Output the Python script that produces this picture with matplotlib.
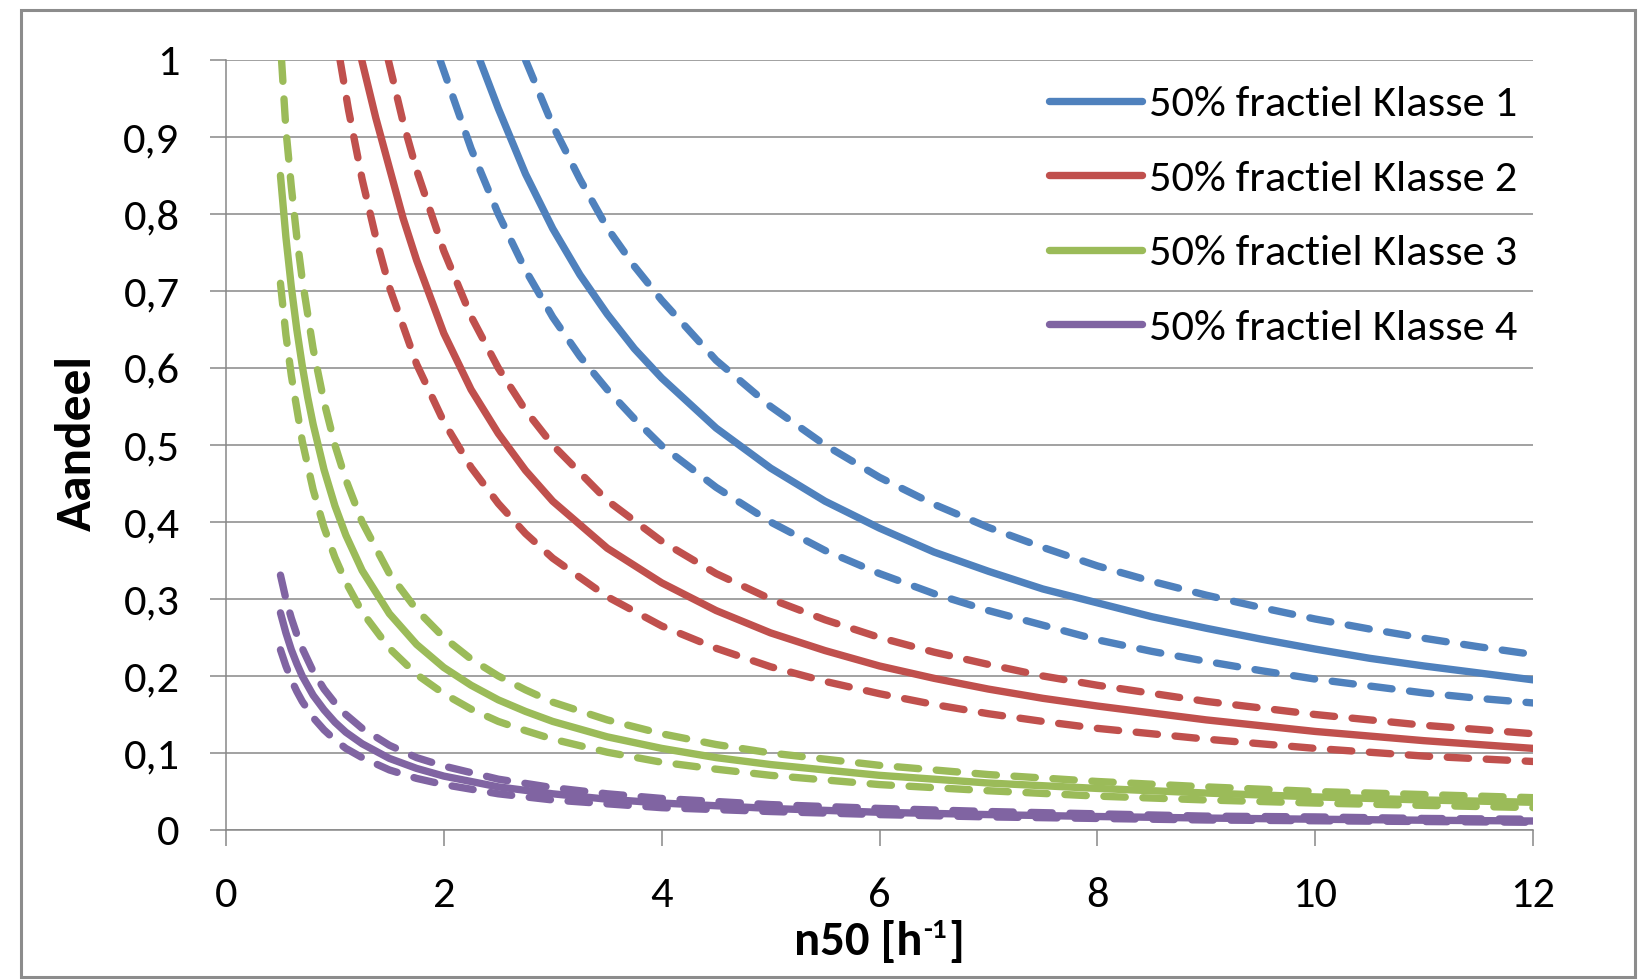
import matplotlib
matplotlib.use("Agg")
import matplotlib.pyplot as plt
from matplotlib.patches import Rectangle
from matplotlib.ticker import FixedLocator

# ---------------- data ----------------
k1_mid_x = [2.33, 2.5, 2.75, 3, 3.25, 3.5, 3.75, 4, 4.5, 5, 5.5, 6, 6.5, 7, 7.5, 8, 8.5, 9, 9.5, 10, 10.5, 11, 11.5, 12]
k1_mid_y = [1.0, 0.937, 0.852, 0.781, 0.721, 0.67, 0.625, 0.587, 0.522, 0.47, 0.427, 0.392, 0.361, 0.336, 0.313,
            0.295, 0.277, 0.262, 0.248, 0.235, 0.223, 0.213, 0.204, 0.195]
k1_hi_x = [2.75, 3, 3.25, 3.5, 3.75, 4, 4.5, 5, 5.5, 6, 6.5, 7, 7.5, 8, 8.5, 9, 9.5, 10, 10.5, 11, 11.5, 12]
k1_hi_y = [1.0, 0.915, 0.845, 0.782, 0.732, 0.688, 0.61, 0.55, 0.5, 0.458, 0.423, 0.393, 0.367, 0.343, 0.323,
           0.305, 0.289, 0.274, 0.261, 0.249, 0.238, 0.228]
k1_lo_x = [1.965, 2.25, 2.5, 2.75, 3, 3.25, 3.5, 3.75, 4, 4.5, 5, 5.5, 6, 6.5, 7, 7.5, 8, 8.5, 9, 9.5, 10, 10.5, 11, 11.5, 12]
k1_lo_y = [1.0, 0.885, 0.80, 0.727, 0.666, 0.615, 0.572, 0.534, 0.499, 0.445, 0.4, 0.363, 0.333, 0.307, 0.285,
           0.266, 0.247, 0.232, 0.219, 0.207, 0.196, 0.187, 0.178, 0.171, 0.165]

k2_mid_x = [1.246, 1.375, 1.5, 1.625, 1.75, 2, 2.25, 2.5, 2.75, 3, 3.5, 4, 4.5, 5, 5.5, 6, 6.5, 7, 7.5, 8, 9, 10, 11, 12]
k2_mid_y = [1.0, 0.925, 0.86, 0.795, 0.74, 0.645, 0.572, 0.515, 0.467, 0.427, 0.366, 0.321, 0.285, 0.256, 0.233,
            0.213, 0.197, 0.183, 0.171, 0.161, 0.143, 0.128, 0.116, 0.106]
k2_hi_x = [1.49, 1.625, 1.75, 2, 2.25, 2.5, 2.75, 3, 3.5, 4, 4.5, 5, 5.5, 6, 6.5, 7, 7.5, 8, 9, 10, 11, 12]
k2_hi_y = [1.0, 0.92, 0.857, 0.752, 0.667, 0.6, 0.545, 0.5, 0.428, 0.375, 0.333, 0.3, 0.273, 0.25, 0.231, 0.215,
           0.2, 0.188, 0.167, 0.15, 0.136, 0.125]
k2_lo_x = [1.047, 1.125, 1.25, 1.375, 1.5, 1.75, 2, 2.25, 2.5, 2.75, 3, 3.5, 4, 4.5, 5, 5.5, 6, 6.5, 7, 7.5, 8, 9, 10, 11, 12]
k2_lo_y = [1.0, 0.935, 0.845, 0.77, 0.705, 0.605, 0.53, 0.471, 0.424, 0.385, 0.353, 0.303, 0.265, 0.236, 0.212,
           0.193, 0.177, 0.163, 0.151, 0.141, 0.132, 0.118, 0.106, 0.096, 0.089]

k3_mid_x = [0.5, 0.55, 0.6, 0.65, 0.7, 0.75, 0.8, 0.9, 1.0, 1.1, 1.25, 1.5, 1.75, 2, 2.25, 2.5, 2.75, 3, 3.5, 4,
            4.5, 5, 6, 7, 8, 9, 10, 11, 12]
k3_mid_y = [0.85, 0.77, 0.705, 0.65, 0.603, 0.562, 0.527, 0.468, 0.421, 0.383, 0.337, 0.281, 0.241, 0.211, 0.188,
            0.169, 0.154, 0.141, 0.121, 0.106, 0.094, 0.085, 0.071, 0.061, 0.054, 0.048, 0.043, 0.039, 0.036]
k3_hi_x = [0.51, 0.55, 0.6, 0.65, 0.7, 0.8, 0.9, 1.0, 1.1, 1.25, 1.5, 1.75, 2, 2.25, 2.5, 2.75, 3, 3.5, 4, 4.5,
           5, 6, 7, 8, 9, 10, 11, 12]
k3_hi_y = [1.0, 0.91, 0.835, 0.77, 0.715, 0.625, 0.556, 0.5, 0.455, 0.4, 0.333, 0.286, 0.25, 0.222, 0.2, 0.182,
           0.166, 0.143, 0.125, 0.111, 0.1, 0.084, 0.072, 0.063, 0.056, 0.05, 0.046, 0.042]
k3_lo_x = [0.5, 0.55, 0.6, 0.7, 0.8, 0.9, 1.0, 1.1, 1.25, 1.5, 1.75, 2, 2.25, 2.5, 2.75, 3, 3.5, 4, 4.5, 5, 6,
           7, 8, 9, 10, 11, 12]
k3_lo_y = [0.71, 0.643, 0.59, 0.505, 0.442, 0.393, 0.354, 0.322, 0.283, 0.236, 0.202, 0.177, 0.157, 0.141, 0.129,
           0.118, 0.101, 0.088, 0.079, 0.071, 0.059, 0.051, 0.044, 0.039, 0.035, 0.032, 0.029]

k4_x = [0.5, 0.55, 0.6, 0.65, 0.7, 0.8, 0.9, 1.0, 1.1, 1.25, 1.5, 1.75, 2, 2.5, 3, 3.5, 4, 5, 6, 7, 8, 9, 10, 11, 12]
k4_mid_y = [0.282, 0.256, 0.234, 0.216, 0.2, 0.175, 0.156, 0.14, 0.127, 0.112, 0.093, 0.08, 0.07, 0.056, 0.047,
            0.04, 0.035, 0.028, 0.023, 0.02, 0.0175, 0.0155, 0.014, 0.0127, 0.0117]
k4_hi_y = [0.331, 0.3, 0.275, 0.254, 0.236, 0.206, 0.183, 0.165, 0.15, 0.132, 0.11, 0.094, 0.083, 0.066, 0.055,
           0.047, 0.041, 0.033, 0.028, 0.024, 0.021, 0.018, 0.017, 0.015, 0.014]
k4_lo_y = [0.234, 0.213, 0.195, 0.18, 0.167, 0.146, 0.13, 0.117, 0.106, 0.094, 0.078, 0.067, 0.059, 0.047, 0.039,
           0.034, 0.029, 0.024, 0.02, 0.017, 0.015, 0.013, 0.012, 0.011, 0.01]

labels = ["50% fractiel Klasse 1", "50% fractiel Klasse 2",
          "50% fractiel Klasse 3", "50% fractiel Klasse 4"]
colors = ["#4F81BD", "#C0504D", "#9BBB59", "#8064A2"]

y_ticks = [0, 0.1, 0.2, 0.3, 0.4, 0.5, 0.6, 0.7, 0.8, 0.9, 1.0]
y_tick_labels = ["0", "0,1", "0,2", "0,3", "0,4", "0,5", "0,6", "0,7", "0,8", "0,9", "1"]
x_ticks = [0, 2, 4, 6, 8, 10, 12]
x_tick_labels = ["0", "2", "4", "6", "8", "10", "12"]
y_title = "Aandeel"
x_title_parts = ["n50 [h", "-1", "]"]

# ---------------- style ----------------
plt.rcParams["font.family"] = ["Carlito", "Lato", "DejaVu Sans"]

W, H = 1651, 980
fig = plt.figure(figsize=(W / 100, H / 100), dpi=100)
fig.patch.set_facecolor("white")

# outer chart frame
fig.patches.append(Rectangle((21 / W, 1 - 977 / H), (1635 - 21) / W, (977 - 10) / H,
                             transform=fig.transFigure, fill=False,
                             edgecolor="#8c8c8c", linewidth=2.2, zorder=0))

ax = fig.add_axes([226 / W, 1 - 830 / H, (1533 - 226) / W, (830 - 60) / H])
ax.set_xlim(0, 12)
ax.set_ylim(0, 1)

grey = "#888888"
for s in ["top", "right"]:
    ax.spines[s].set_visible(False)
for s in ["left", "bottom"]:
    ax.spines[s].set_color(grey)
    ax.spines[s].set_linewidth(1.1)

ax.yaxis.set_major_locator(FixedLocator(y_ticks))
ax.set_yticklabels(y_tick_labels)
ax.xaxis.set_major_locator(FixedLocator(x_ticks))
ax.set_xticklabels(x_tick_labels)
ax.tick_params(axis="both", direction="out", length=11.5, width=1.1, color=grey,
               labelsize=32, labelcolor="black")
ax.tick_params(axis="y", pad=22)
ax.tick_params(axis="x", pad=22)
ax.grid(axis="y", color=grey, linewidth=1.1)
ax.set_axisbelow(True)

lw = 5.3
dash = (0, (2.9, 2.4))

groups = [
    (k1_mid_x, k1_mid_y, k1_hi_x, k1_hi_y, k1_lo_x, k1_lo_y),
    (k2_mid_x, k2_mid_y, k2_hi_x, k2_hi_y, k2_lo_x, k2_lo_y),
    (k3_mid_x, k3_mid_y, k3_hi_x, k3_hi_y, k3_lo_x, k3_lo_y),
    (k4_x, k4_mid_y, k4_x, k4_hi_y, k4_x, k4_lo_y),
]

handles = []
for (mx, my, hx, hy, lx, ly), c, lab in zip(groups, colors, labels):
    h, = ax.plot(mx, my, color=c, lw=lw, solid_capstyle="round",
                 solid_joinstyle="round", label=lab, zorder=3)
    ax.plot(hx, hy, color=c, lw=lw, linestyle=dash, dash_capstyle="round",
            dash_joinstyle="round", zorder=3)
    ax.plot(lx, ly, color=c, lw=lw, linestyle=dash, dash_capstyle="round",
            dash_joinstyle="round", zorder=3)
    handles.append(h)

leg = ax.legend(handles=handles, labels=labels, loc="upper left",
                bbox_to_anchor=(1049 / W, 1 - 85 / H), bbox_transform=fig.transFigure,
                frameon=False, fontsize=32, handlelength=2.1, handletextpad=0.15,
                labelspacing=0.82, borderpad=0, borderaxespad=0)

# y axis title
fig.text(77 / W, 1 - 443 / H, y_title, fontsize=37, fontweight="bold",
         rotation=90, ha="center", va="center")

# x axis title with superscript built from pieces
fig.canvas.draw()
renderer = fig.canvas.get_renderer()
main_fs, sup_fs = 35, 21
tmp = [fig.text(0, 0, x_title_parts[0], fontsize=main_fs, fontweight="bold"),
       fig.text(0, 0, x_title_parts[1], fontsize=sup_fs, fontweight="bold"),
       fig.text(0, 0, x_title_parts[2], fontsize=main_fs, fontweight="bold")]
widths = [t.get_window_extent(renderer).width for t in tmp]
for t in tmp:
    t.remove()
total = sum(widths) + 2
x_px = 879 - total / 2
base_px = 955
fig.text(x_px / W, 1 - base_px / H, x_title_parts[0], fontsize=main_fs,
         fontweight="bold", va="baseline", ha="left")
fig.text((x_px + widths[0] + 1) / W, 1 - (base_px - 17) / H, x_title_parts[1],
         fontsize=sup_fs, fontweight="bold", va="baseline", ha="left")
fig.text((x_px + widths[0] + widths[1] + 2) / W, 1 - base_px / H, x_title_parts[2],
         fontsize=main_fs, fontweight="bold", va="baseline", ha="left")

fig.savefig("out.png", dpi=100, facecolor="white")
